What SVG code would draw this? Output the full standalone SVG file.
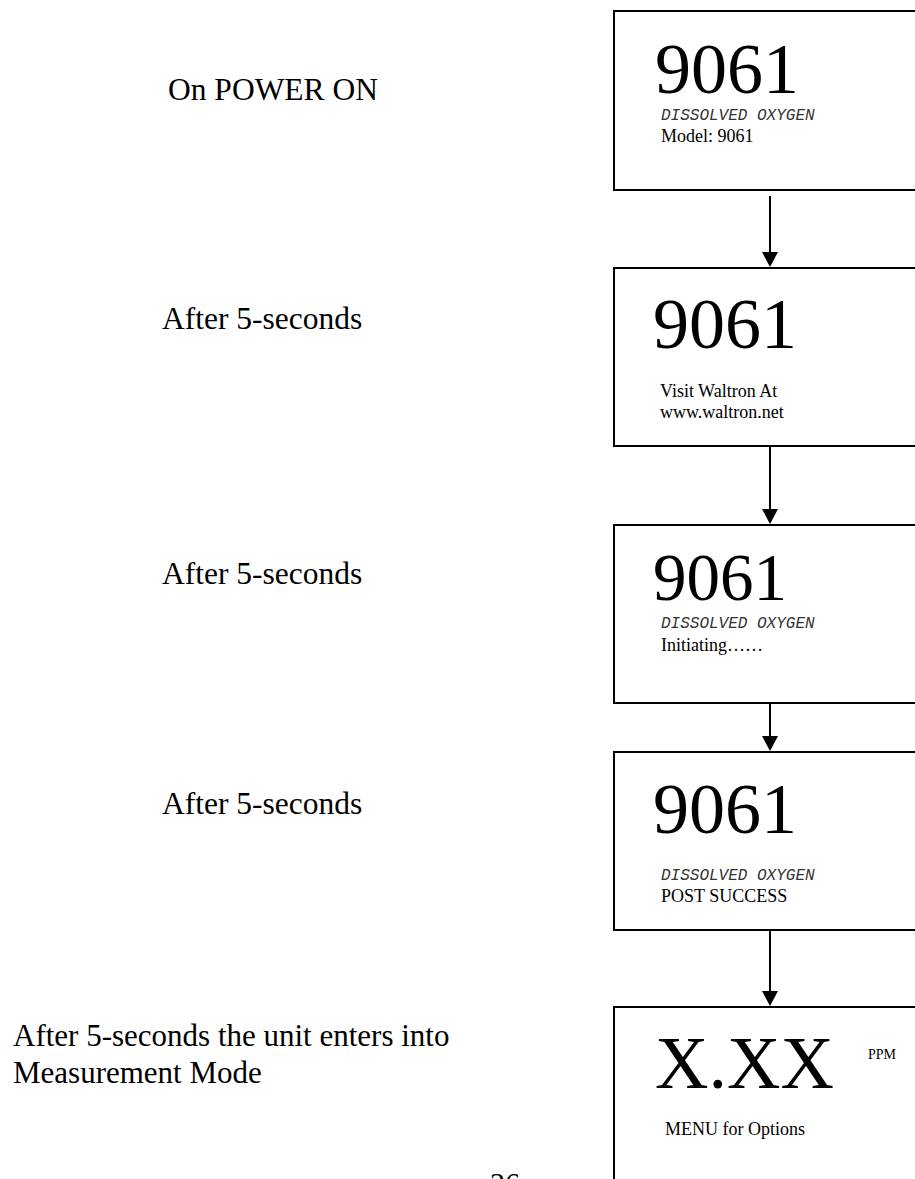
<svg xmlns="http://www.w3.org/2000/svg" width="915" height="1179" viewBox="0 0 915 1179">
  <style>
    .box { fill: #fff; stroke: #000; stroke-width: 2; }
    .big { font-family: "Liberation Serif", serif; font-size: 72px; fill: #000; }
    .mono { font-family: "Liberation Mono", monospace; font-style: italic; font-size: 16px; fill: #333; }
    .small { font-family: "Liberation Serif", serif; font-size: 18px; fill: #000; }
    .label { font-family: "Liberation Serif", serif; font-size: 31.5px; fill: #000; }
    .wire { stroke: #000; stroke-width: 2; fill: none; }
    .head { fill: #000; }
  </style>
  <rect width="915" height="1179" fill="#fff"/>

  <!-- step captions -->
  <g id="captions">
    <text class="label" x="168" y="100">On POWER ON</text>
    <text class="label" x="162" y="329">After 5-seconds</text>
    <text class="label" x="162" y="584">After 5-seconds</text>
    <text class="label" x="162" y="814">After 5-seconds</text>
    <text class="label" x="13" y="1046" style="font-size:31px">After 5-seconds the unit enters into</text>
    <text class="label" x="13" y="1083" style="font-size:31px">Measurement Mode</text>
  </g>

  <!-- display screens -->
  <g id="screen-model">
    <rect class="box" x="614" y="11" width="320" height="179"/>
    <text class="big" x="655" y="93">9061</text>
    <text class="mono" x="661" y="120">DISSOLVED OXYGEN</text>
    <text class="small" x="661" y="142">Model: 9061</text>
  </g>

  <g id="screen-web">
    <rect class="box" x="614" y="268" width="320" height="178"/>
    <text class="big" x="653" y="348">9061</text>
    <text class="small" x="660" y="397">Visit Waltron At</text>
    <text class="small" x="660" y="418">www.waltron.net</text>
  </g>

  <g id="screen-init">
    <rect class="box" x="614" y="525" width="320" height="178"/>
    <text class="big" x="653" y="600" style="font-size:67px">9061</text>
    <text class="mono" x="661" y="628">DISSOLVED OXYGEN</text>
    <text class="small" x="661" y="651">Initiating……</text>
  </g>

  <g id="screen-post">
    <rect class="box" x="614" y="752" width="320" height="178"/>
    <text class="big" x="653" y="833">9061</text>
    <text class="mono" x="661" y="880">DISSOLVED OXYGEN</text>
    <text class="small" x="661" y="902">POST SUCCESS</text>
  </g>

  <g id="screen-measure">
    <rect class="box" x="614" y="1007" width="320" height="200"/>
    <text class="big" x="655" y="1088" style="font-size:74px">X.XX</text>
    <text class="small" x="868" y="1059" style="font-size:14px">PPM</text>
    <text class="small" x="665" y="1135">MENU for Options</text>
  </g>

  <!-- flow arrows between screens -->
  <g id="connectors">
    <line class="wire" x1="770" y1="196" x2="770" y2="252"/>
    <path class="head" d="M762,252 L778,252 L770,267 Z"/>
    <line class="wire" x1="770" y1="446" x2="770" y2="510"/>
    <path class="head" d="M762,509 L778,509 L770,524 Z"/>
    <line class="wire" x1="770" y1="703" x2="770" y2="737"/>
    <path class="head" d="M762,736 L778,736 L770,751 Z"/>
    <line class="wire" x1="770" y1="930" x2="770" y2="992"/>
    <path class="head" d="M762,991 L778,991 L770,1006 Z"/>
  </g>

  <!-- page number -->
  <text class="label" x="490" y="1193" style="font-size:30px">26</text>
</svg>
